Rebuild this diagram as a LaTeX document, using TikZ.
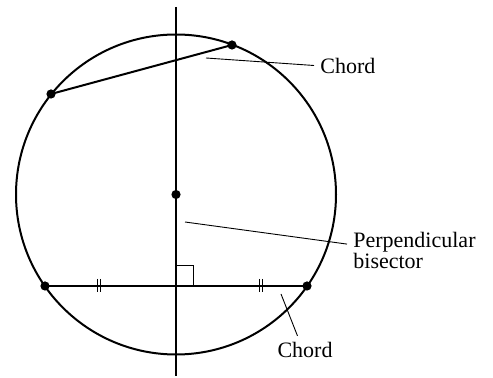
\documentclass[tikz,border=0pt]{standalone}
\usepackage{fontspec}
\setmainfont{Liberation Serif}
\usepackage{tikz}

\begin{document}
\begin{tikzpicture}[x=0.5pt,y=-0.5pt,
  dot/.style={circle,fill=black,inner sep=0pt,minimum size=4.6pt},
  leader/.style={line width=0.45pt},
  lbl/.style={font=\fontsize{11}{10.5}\selectfont,inner sep=3pt}]
\useasboundingbox (0,0) rectangle (493,378);
\coordinate (O) at (176,194.5);
\coordinate (vtop) at (176,7);
\coordinate (vbot) at (176,376);
\draw [line width=1pt] (O) circle [radius=80pt];
\draw [line width=1pt] (vtop) -- (vbot);
\node [dot] (ctr) at (O) {};
\node [dot] (a) at (51,94) {};
\node [dot] (b) at (232,45) {};
\node [dot] (l) at (45,286) {};
\node [dot] (r) at (307,286) {};
\draw [line width=1pt] (a.center) -- (b.center);
\draw [line width=1pt] (l.center) -- (r.center);
\draw [leader] (176,265) -- (193,265) -- (193,286);
\foreach \x in {99,261}
  \draw [leader,line width=0.6pt] (\x-1.6,279) -- (\x-1.6,292) (\x+1.6,279) -- (\x+1.6,292);
\node [lbl,anchor=west] (chordtop) at (314,65.5) {Chord};
\node [lbl,anchor=west,align=left] (perp) at (347,250) {Perpendicular\\bisector};
\node [lbl] (chordbot) at (305,350) {Chord};
\coordinate (p1) at (206,58);
\coordinate (p2) at (185,222);
\coordinate (p3) at (281,294);
\draw [leader] (p1) -- (chordtop.west);
\draw [leader] (p2) -- (perp.175);
\draw [leader] (p3) -- (chordbot.118);
\end{tikzpicture}
\end{document}
